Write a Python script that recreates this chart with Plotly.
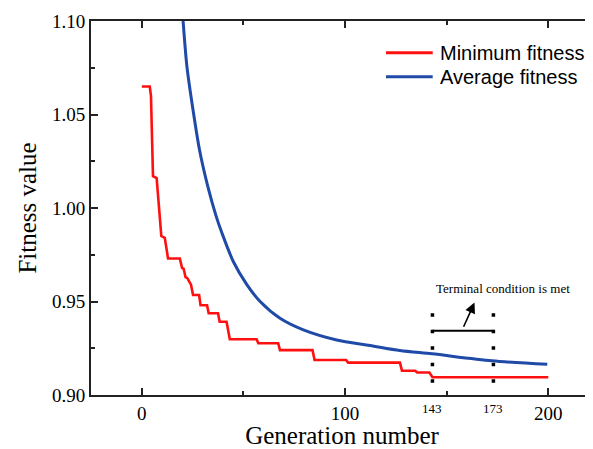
import plotly.graph_objects as go

# Minimum fitness (step-like curve)
min_gen = [0, 3.9, 4.5, 5.5, 7.3, 9.6, 11.3, 12.9, 18.7, 19.8, 20.6, 21.5, 22.4, 24.2, 25.2,
           28.2, 28.9, 32.1, 32.9, 37.5, 38.3, 41.7, 43.3, 56.5, 57.3, 67.1, 68.0,
           84.0, 85.0, 100.5, 101.5, 127.0, 128.0, 134.5, 135.5, 141.5, 143.0, 200]
min_fit = [1.065, 1.065, 1.060, 1.017, 1.016, 0.985, 0.984, 0.973, 0.973, 0.968, 0.9675, 0.963, 0.9625, 0.959, 0.9535,
           0.9535, 0.948, 0.948, 0.9437, 0.9437, 0.9392, 0.9392, 0.9298, 0.9298, 0.9277, 0.9277, 0.924,
           0.924, 0.9187, 0.9187, 0.9173, 0.9173, 0.913, 0.913, 0.912, 0.912, 0.9095, 0.9095]

# Average fitness (smooth curve)
avg_gen = [18.5, 20.3, 22.2, 25.2, 28.4, 32.5, 36.6, 39.3, 45.0, 51.6, 58.1, 68.0, 79.5,
           95.9, 112.3, 127.0, 142.8, 172.2, 199.5]
avg_fit = [1.125, 1.10, 1.0756, 1.0524, 1.031, 1.0114, 0.9955, 0.9870, 0.9714, 0.9592, 0.9501,
           0.941, 0.9348, 0.9294, 0.9265, 0.9238, 0.9220, 0.9183, 0.9164]

series_names = ["Minimum fitness", "Average fitness"]
series_colors = ["#ff1010", "#1f4aa8"]

x_tick_vals = [0, 100, 200]
y_tick_vals = [0.90, 0.95, 1.00, 1.05, 1.10]
y_tick_text = ["0.90", "0.95", "1.00", "1.05", "1.10"]

marker_gens = [143, 173]
marker_top = 0.9437
bracket_y = 0.9344
arrow_tail = (158.0, 0.9357)
arrow_head = (163.7, 0.9494)
note_pos = (177.6, 0.9567)
note_text = "Terminal condition is met"

serif = "Liberation Serif, Times New Roman, serif"
sans = "Liberation Sans, Arial, sans-serif"

fig = go.Figure()
fig.add_trace(go.Scatter(x=min_gen, y=min_fit, mode="lines", name=series_names[0],
                         line=dict(color=series_colors[0], width=2.6)))
fig.add_trace(go.Scatter(x=avg_gen, y=avg_fit, mode="lines", name=series_names[1],
                         line=dict(color=series_colors[1], width=3, shape="spline", smoothing=0.8)))

# dotted vertical markers
for g in marker_gens:
    fig.add_shape(type="line", xref="x", yref="y", x0=g, x1=g, y0=marker_top, y1=0.90,
                  line=dict(color="black", width=3.5, dash="3.5px,13px"))
    fig.add_annotation(x=g, y=-0.012, xref="x", yref="paper", text=str(g), showarrow=False,
                       yanchor="top", font=dict(family=serif, size=13, color="black"))
# bracket line
fig.add_shape(type="line", xref="x", yref="y", x0=marker_gens[0], x1=marker_gens[1],
              y0=bracket_y, y1=bracket_y, line=dict(color="black", width=2))
# arrow
fig.add_annotation(x=arrow_head[0], y=arrow_head[1], ax=arrow_tail[0], ay=arrow_tail[1],
                   xref="x", yref="y", axref="x", ayref="y", text="", showarrow=True,
                   arrowhead=2, arrowsize=1.3, arrowwidth=1.6, arrowcolor="black")
fig.add_annotation(x=note_pos[0], y=note_pos[1], xref="x", yref="y", text=note_text,
                   showarrow=False, font=dict(family=serif, size=13, color="black"))

# manual legend (longer line samples than plotly's built-in legend)
legend_rows = [0.9152, 0.851]
for name, color, ly in zip(series_names, series_colors, legend_rows):
    fig.add_shape(type="line", xref="paper", yref="paper", x0=0.5876, x1=0.6807, y0=ly, y1=ly,
                  line=dict(color=color, width=3))
    fig.add_annotation(x=0.6912, y=ly, xref="paper", yref="paper", text=name, showarrow=False,
                       xanchor="left", yanchor="middle",
                       font=dict(family=sans, size=20, color="black"))

fig.update_layout(
    width=585, height=441,
    margin=dict(l=83, r=0, t=13, b=54),
    paper_bgcolor="white", plot_bgcolor="white",
    showlegend=False,
)
fig.update_xaxes(range=[-25, 222], tickvals=x_tick_vals, ticks="inside", ticklen=7,
                 tickwidth=1.5, tickcolor="#222", showline=True, linecolor="#222", linewidth=2,
                 mirror="ticks", showgrid=False, zeroline=False, automargin=False,
                 tickfont=dict(family=serif, size=19, color="black"),
                 minor=dict(dtick=50, tick0=0, ticks="inside", ticklen=4, tickwidth=1.5, tickcolor="#222"),
                 title=dict(text="Generation number", font=dict(family=serif, size=25, color="black"),
                            standoff=10))
fig.update_yaxes(range=[0.90, 1.10], tickvals=y_tick_vals, ticktext=y_tick_text, ticks="inside",
                 ticklen=7, tickwidth=1.5, tickcolor="#222", showline=True, linecolor="#222",
                 linewidth=2, showgrid=False, zeroline=False, automargin=False,
                 tickfont=dict(family=serif, size=19, color="black"),
                 minor=dict(dtick=0.025, tick0=0.9, ticks="inside", ticklen=4, tickwidth=1.5, tickcolor="#222"),
                 title=dict(text="Fitness value", font=dict(family=serif, size=25, color="black"),
                            standoff=8))

fig.write_html("out.html")
